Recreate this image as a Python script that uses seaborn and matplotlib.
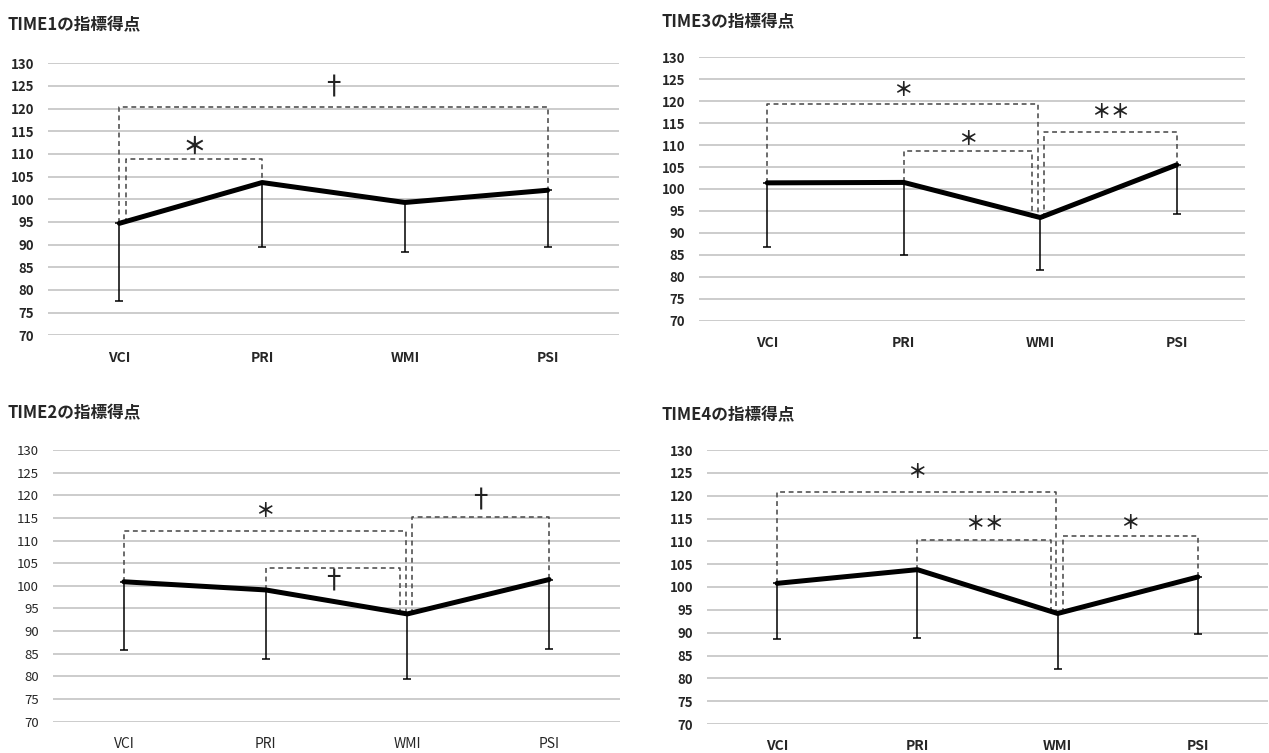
import matplotlib
matplotlib.use('Agg')
import matplotlib.pyplot as plt
import seaborn as sns
import pandas as pd

categories = ['VCI', 'PRI', 'WMI', 'PSI']

# mean index scores and lower end of the error bar (mean - SD)
time1_mean = [94.7, 103.7, 99.3, 102.0]
time1_lower = [77.6, 89.4, 88.4, 89.5]
time2_mean = [100.9, 99.1, 93.8, 101.4]
time2_lower = [85.8, 83.8, 79.4, 86.1]
time3_mean = [101.4, 101.5, 93.5, 105.5]
time3_lower = [86.8, 85.0, 81.5, 94.2]
time4_mean = [100.8, 103.8, 94.2, 102.2]
time4_lower = [88.7, 88.8, 82.1, 89.6]

# significance brackets: (from, to), bracket height, mark, mark height
time1_pairs = [(0, 1), (0, 3)]
time1_heights = [109.0, 120.4]
time1_marks = ['＊', '†']
time1_mark_y = [111.6, 124.5]

time2_pairs = [(0, 2), (1, 2), (2, 3)]
time2_heights = [112.1, 104.0, 115.3]
time2_marks = ['＊', '†', '†']
time2_mark_y = [116.4, 100.8, 118.8]

time3_pairs = [(0, 2), (1, 2), (2, 3)]
time3_heights = [119.4, 108.6, 112.9]
time3_marks = ['＊', '＊', '＊＊']
time3_mark_y = [122.5, 111.3, 117.5]

time4_pairs = [(0, 2), (1, 2), (2, 3)]
time4_heights = [120.9, 110.2, 111.1]
time4_marks = ['＊', '＊＊', '＊']
time4_mark_y = [125.0, 113.6, 114.0]

W, H = 1269, 753
FONTS = ['Noto Sans CJK JP', 'DejaVu Sans']

sns.set_theme(style='white')
plt.rcParams['font.family'] = FONTS


def px_rect(x0, x1, y0, y1):
    return [x0 / W, 1 - y1 / H, (x1 - x0) / W, (y1 - y0) / H]


def draw_panel(fig, rect, title, title_xy, mean, lower, pairs, heights, marks, mark_y,
               leg_offsets, tick_weight='bold', mark_sizes=None):
    ax = fig.add_axes(rect)
    df = pd.DataFrame({'pos': range(len(categories)), 'score': mean})

    for v in range(70, 131, 5):
        ax.axhline(v, color='#c4c4c4', lw=1.2, zorder=0)

    err_low = [m - lo for m, lo in zip(mean, lower)]
    ax.errorbar(df['pos'], df['score'], yerr=[err_low, [0] * len(mean)], fmt='none',
                ecolor='black', elinewidth=1.1, capsize=3.2, capthick=1.1, zorder=2)
    sns.lineplot(data=df, x='pos', y='score', color='black', lw=3.6, ax=ax, zorder=3)

    # dashed significance brackets
    for k, ((i, j), h) in enumerate(zip(pairs, heights)):
        oi, oj = leg_offsets[k]
        xi, xj = i + oi, j + oj
        ax.plot([xi, xi, xj, xj], [mean[i], h, h, mean[j]], color='#444444',
                lw=1.1, ls=(0, (3.2, 2.4)), zorder=1)
        if marks[k] == '†':
            fs, fw = 19, 'normal'
        else:
            fs, fw = (mark_sizes[k] if mark_sizes else 14), 'bold'
        ax.text((xi + xj) / 2, mark_y[k], marks[k], ha='center', va='center',
                fontsize=fs, fontweight=fw, color='#222222', family=FONTS)

    ax.set_xlim(-0.5, len(categories) - 0.5)
    ax.set_ylim(70, 130)
    ax.set_yticks(range(70, 131, 5))
    ax.set_xticks(range(len(categories)))
    ax.set_xticklabels(categories)
    ax.tick_params(axis='y', length=0, pad=10, labelsize=9.5)
    ax.tick_params(axis='x', length=0, pad=11, labelsize=10)
    for lab in ax.get_yticklabels() + ax.get_xticklabels():
        lab.set_fontweight(tick_weight)
    ax.set_xlabel('')
    ax.set_ylabel('')
    for s in ax.spines.values():
        s.set_visible(False)
    fig.text(title_xy[0] / W, 1 - title_xy[1] / H, title, ha='left', va='center',
             fontsize=12, fontweight='bold', family=FONTS)
    return ax


fig = plt.figure(figsize=(W / 100, H / 100), dpi=100)
fig.patch.set_facecolor('white')

s = 0.045  # small horizontal shift for legs that share a point
draw_panel(fig, px_rect(48, 619, 63.3, 335.3), 'TIME1の指標得点', (8, 25),
           time1_mean, time1_lower, time1_pairs, time1_heights, time1_marks, time1_mark_y,
           [(s, 0), (0, 0)], mark_sizes=[17, 19])
draw_panel(fig, px_rect(699, 1245, 57.3, 320.7), 'TIME3の指標得点', (661, 22),
           time3_mean, time3_lower, time3_pairs, time3_heights, time3_marks, time3_mark_y,
           [(0, -0.015), (0, -0.06), (0.03, 0)])
draw_panel(fig, px_rect(53, 620, 450, 721.7), 'TIME2の指標得点', (8, 413),
           time2_mean, time2_lower, time2_pairs, time2_heights, time2_marks, time2_mark_y,
           [(0, -0.01), (0, -0.05), (0.03, 0)], tick_weight='normal')
draw_panel(fig, px_rect(707, 1268, 450, 724), 'TIME4の指標得点', (661, 415),
           time4_mean, time4_lower, time4_pairs, time4_heights, time4_marks, time4_mark_y,
           [(0, -0.01), (0, -0.045), (0.035, 0)])

fig.savefig('out.png', dpi=100)
